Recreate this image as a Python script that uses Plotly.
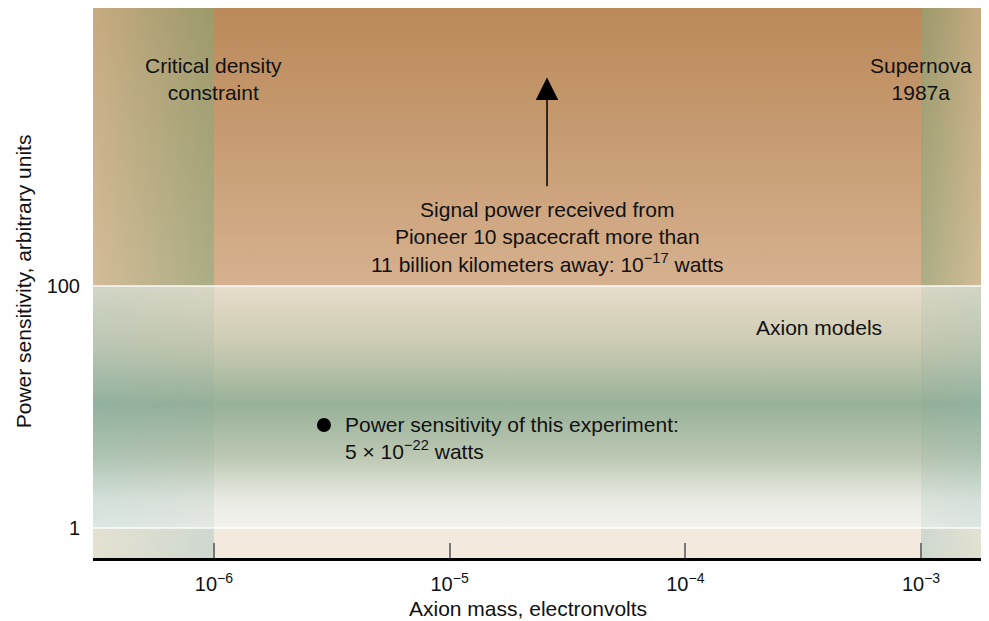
import numpy as np
import plotly.graph_objects as go

# ---- data ----
x_tick_vals = [1e-6, 1e-5, 1e-4, 1e-3]
x_tick_text = ["10<sup>−6</sup>", "10<sup>−5</sup>", "10<sup>−4</sup>", "10<sup>−3</sup>"]
y_tick_vals = [1, 100]
y_tick_text = ["1", "100"]

x_range_log = [-6.513, -2.737]
y_range_log = [-0.248, 4.298]

critical_density_limit = 1e-6   # axion mass, eV
supernova_limit = 1e-3          # axion mass, eV
axion_models_band = [1, 100]    # power sensitivity, arbitrary units

experiment_mass = [2.93e-6]
experiment_sensitivity = [7.1]

pioneer_mass = 2.59e-5
pioneer_arrow_from = 650
pioneer_arrow_to = 5300

xmin, xmax = 10 ** x_range_log[0], 10 ** x_range_log[1]
ymin, ymax = 10 ** y_range_log[0], 10 ** y_range_log[1]

FONT = "Liberation Sans, Arial, Helvetica, sans-serif"

fig = go.Figure()


def rect(x0, x1, y0, y1, gtype, cscale):
    fig.add_trace(go.Scatter(
        x=[x0, x1, x1, x0, x0], y=[y0, y0, y1, y1, y0],
        mode="lines", line=dict(width=0), fill="toself",
        fillgradient=dict(type=gtype, colorscale=cscale),
        hoverinfo="skip", showlegend=False))


# background bands (vertical gradients)
rect(xmin, xmax, axion_models_band[1], ymax, "vertical",
     [[0, "rgb(214,177,143)"], [1, "rgb(186,137,89)"]])
rect(xmin, xmax, axion_models_band[0], axion_models_band[1], "vertical",
     [[0, "rgb(244,243,238)"], [0.12, "rgb(232,234,226)"], [0.3, "rgb(187,199,178)"],
      [0.51, "rgb(152,177,153)"], [0.75, "rgb(202,202,178)"], [1, "rgb(232,222,203)"]])
rect(xmin, xmax, ymin, axion_models_band[0], "vertical",
     [[0, "rgb(243,233,221)"], [1, "rgb(243,234,223)"]])

# excluded columns (horizontal gradient overlays)
left_top = [[0, "rgba(210,198,160,0.55)"], [1, "rgba(128,170,125,0.5)"]]
left_mid = [[0, "rgba(120,180,180,0.2)"], [1, "rgba(120,160,150,0.12)"]]
left_bot = [[0, "rgba(205,212,190,0.4)"], [1, "rgba(160,195,190,0.45)"]]


def flip(cs):
    return [[1 - s, c] for s, c in cs[::-1]]


rect(xmin, critical_density_limit, axion_models_band[1], ymax, "horizontal", left_top)
rect(xmin, critical_density_limit, axion_models_band[0], axion_models_band[1], "horizontal", left_mid)
rect(xmin, critical_density_limit, ymin, axion_models_band[0], "horizontal", left_bot)
rect(supernova_limit, xmax, axion_models_band[1], ymax, "horizontal", flip(left_top))
rect(supernova_limit, xmax, axion_models_band[0], axion_models_band[1], "horizontal", flip(left_mid))
rect(supernova_limit, xmax, ymin, axion_models_band[0], "horizontal", flip(left_bot))

# white boundary lines
for yv in axion_models_band:
    fig.add_trace(go.Scatter(x=[xmin, xmax], y=[yv, yv], mode="lines",
                             line=dict(color="rgba(255,255,255,0.9)", width=1.5),
                             hoverinfo="skip", showlegend=False))

# experiment point
fig.add_trace(go.Scatter(x=experiment_mass, y=experiment_sensitivity, mode="markers",
                         marker=dict(color="black", size=14),
                         hoverinfo="skip", showlegend=False))

ann = []
tf = dict(family=FONT, size=21, color="#111")
ann.append(dict(x=np.log10(critical_density_limit), y=3.715, xref="x", yref="y",
                text="Critical density<br>constraint", showarrow=False, font=tf))
ann.append(dict(x=np.log10(supernova_limit), y=3.715, xref="x", yref="y",
                text="Supernova<br>1987a", showarrow=False, font=tf))
ann.append(dict(x=np.log10(pioneer_mass), y=2.405, xref="x", yref="y",
                text="Signal power received from<br>Pioneer 10 spacecraft more than<br>"
                     "11 billion kilometers away: 10<sup>−17</sup> watts",
                showarrow=False, font=tf))
ann.append(dict(x=-3.431, y=1.661, xref="x", yref="y", text="Axion models",
                showarrow=False, font=tf))
ann.append(dict(x=-5.453, y=0.74, xref="x", yref="y", xanchor="left", align="left",
                text="Power sensitivity of this experiment:<br>5 × 10<sup>−22</sup> watts",
                showarrow=False, font=tf))
# arrow
ann.append(dict(x=np.log10(pioneer_mass), y=np.log10(pioneer_arrow_to),
                ax=np.log10(pioneer_mass), ay=np.log10(pioneer_arrow_from),
                xref="x", yref="y", axref="x", ayref="y", text="",
                showarrow=True, arrowhead=2, arrowsize=3, arrowwidth=1.5,
                arrowcolor="black"))
# axis titles
ann.append(dict(x=0.489, y=-0.091, xref="paper", yref="paper", xanchor="center",
                yanchor="middle", text="Axion mass, electronvolts", showarrow=False, font=tf))
ann.append(dict(x=-0.0787, y=0.503, xref="paper", yref="paper", textangle=-90,
                xanchor="center", yanchor="middle",
                text="Power sensitivity, arbitrary units", showarrow=False, font=tf))

fig.update_layout(
    width=989, height=621,
    margin=dict(l=85, r=14, t=0, b=71),
    paper_bgcolor="white", plot_bgcolor="white",
    font=dict(family=FONT, size=19, color="#111"),
    annotations=ann,
    showlegend=False,
)
fig.update_xaxes(type="log", range=x_range_log, tickvals=x_tick_vals, ticktext=x_tick_text,
                 showgrid=False, zeroline=False, showline=True, linecolor="black", linewidth=3,
                 ticks="inside", ticklen=15, tickwidth=2, tickcolor="#777",
                 ticklabelstandoff=6,
                 layer="above traces", tickfont=dict(size=20))
fig.update_yaxes(type="log", range=y_range_log, tickvals=y_tick_vals, ticktext=y_tick_text,
                 showgrid=False, zeroline=False, showline=False, ticks="",
                 ticklabelstandoff=12, tickfont=dict(size=20))

fig.write_html("out.html")
